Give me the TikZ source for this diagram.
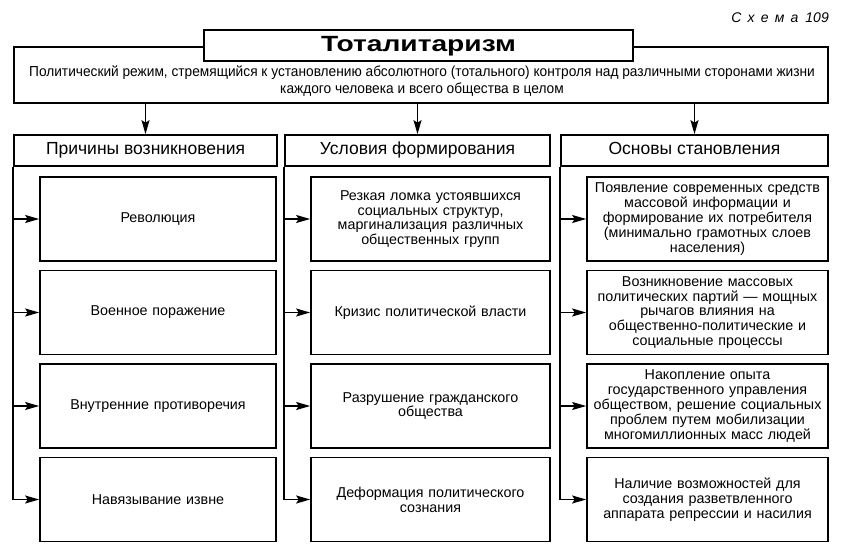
\documentclass[tikz,border=0pt]{standalone}
\usepackage{fontspec}
\setmainfont{Liberation Sans}
\newfontfamily\descfont[FakeStretch=0.945]{Liberation Sans}
\newfontfamily\titlefont[FakeStretch=1.28]{Liberation Sans}
\newfontfamily\schemafont[LetterSpace=45]{Liberation Sans}
\usetikzlibrary{arrows.meta}
\tikzset{
  box/.style={draw, line width=1.7pt, fill=white, inner sep=0pt, align=center,
    minimum height=84pt, font=\fontsize{14.3}{14.8}\selectfont},
  lbox/.style={box, minimum width=236pt, text width=232pt},
  mbox/.style={box, minimum width=239pt, text width=235pt},
  rbox/.style={box, minimum width=241pt, text width=239pt},
  head/.style={draw, line width=1.7pt, fill=white, inner sep=0pt, align=center,
    minimum height=31pt, text height=12.5pt, text depth=4pt, font=\fontsize{17.5}{19}\selectfont},
  arr/.style={line width=1.4pt, -{Stealth[length=14pt,width=8pt,inset=2.5pt]}},
}
\begin{document}
\begin{tikzpicture}[x=1pt,y=-1pt]
\useasboundingbox[fill=white] (0,0) rectangle (850,559);
% label
\node[anchor=base east, inner sep=0pt, font=\fontsize{14}{16}\selectfont\itshape] (lab) at (829,23) {{\schemafont Схема}\enspace 109};
% description box
\node[draw, line width=1.7pt, minimum width=814pt, minimum height=56pt, inner sep=0pt] (desc) at (421,75) {};
\node[align=center, inner sep=0pt, font=\descfont\fontsize{14.5}{16.5}\selectfont] (desctxt) at (422,81)
  {Политический режим, стремящийся к установлению абсолютного (тотального) контроля над различными сторонами жизни\\каждого человека и всего общества в целом};
% title
\node[draw, line width=1.7pt, fill=white, minimum width=429pt, minimum height=31pt, inner sep=0pt,
  text height=15.5pt, text depth=4pt,
  font=\titlefont\bfseries\fontsize{22}{26}\selectfont] (title) at (418.5,45.5) {Тоталитаризм};
% headers
\node[head, minimum width=263pt] (hl) at (145.5,150.5) {Причины возникновения};
\node[head, minimum width=265pt] (hm) at (417.5,150.5) {Условия формирования};
\node[head, minimum width=267pt] (hr) at (694.5,150.5) {Основы становления};
% left column
\node[lbox] (l1) at (158,219) {Революция};
\node[lbox] (l2) at (158,312.5) {Военное поражение};
\node[lbox] (l3) at (158,406) {Внутренние противоречия};
\node[lbox] (l4) at (158,499.5) {Навязывание извне};
% middle column
\node[mbox] (m1) at (430.5,219) {Резкая ломка устоявшихся\\социальных структур,\\маргинализация различных\\общественных групп};
\node[mbox] (m2) at (430.5,312.5) {Кризис политической власти};
\node[mbox] (m3) at (430.5,406) {Разрушение гражданского\\общества};
\node[mbox] (m4) at (430.5,499.5) {Деформация политического\\сознания};
% right column
\node[rbox] (r1) at (707.5,219) {Появление современных средств\\массовой информации и\\формирование их потребителя\\(минимально грамотных слоев\\населения)};
\node[rbox] (r2) at (707.5,312.5) {Возникновение массовых\\политических партий — мощных\\рычагов влияния на\\общественно-политические и\\социальные процессы};
\node[rbox] (r3) at (707.5,406) {Накопление опыта\\государственного управления\\обществом, решение социальных\\проблем путем мобилизации\\многомиллионных масс людей};
\node[rbox] (r4) at (707.5,499.5) {Наличие возможностей для\\создания разветвленного\\аппарата репрессии и насилия};
% arrows to headers
\draw[arr] (desc.south -| hl.north) -- (hl.north);
\draw[arr] (desc.south -| hm.north) -- (hm.north);
\draw[arr] (desc.south -| hr.north) -- (hr.north);
% column connectors
\foreach \h/\c in {hl/l, hm/m, hr/r}{
  \draw[arr] (\h.south west) |- (\c4.west);
  \foreach \i in {1,2,3}{
    \draw[arr] (\h.south west |- \c\i.west) -- (\c\i.west);
  }
}
\end{tikzpicture}
\end{document}
